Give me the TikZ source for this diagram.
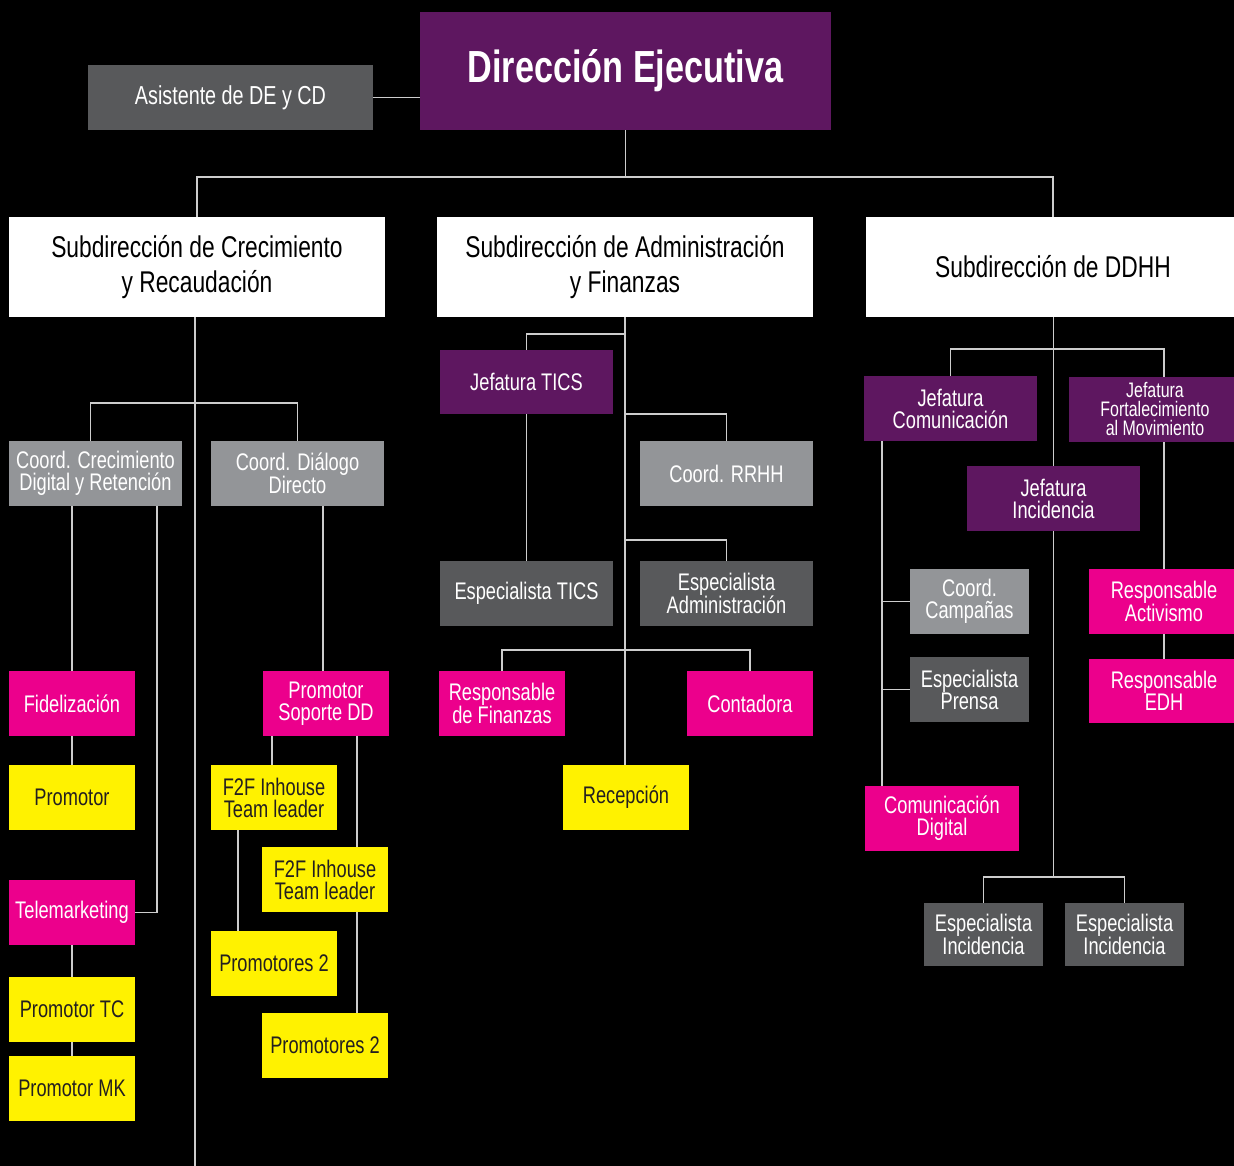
\documentclass[tikz,border=0pt]{standalone}
\usepackage{fontspec}
\setmainfont{Liberation Sans}[FakeStretch=0.76]
\usepackage{tikz}

\definecolor{morado}{RGB}{94,23,96}
\definecolor{fucsia}{RGB}{236,0,140}
\definecolor{amarillo}{RGB}{255,242,0}
\definecolor{grisclaro}{RGB}{147,149,152}
\definecolor{grisoscuro}{RGB}{88,89,91}
\definecolor{lineagris}{RGB}{205,205,205}
\definecolor{tinta}{RGB}{35,31,32}

\tikzset{
  caja/.style={inner sep=0pt, align=center, text=white, font=\fontsize{24}{22}\selectfont},
  jefe/.style={caja, fill=morado},
  coord/.style={caja, fill=grisclaro},
  espec/.style={caja, fill=grisoscuro},
  resp/.style={caja, fill=fucsia},
  prom/.style={caja, fill=amarillo, text=tinta},
  sub/.style={caja, fill=white, text=black, minimum width=376pt, minimum height=100pt,
    font=\fontsize{30}{35}\selectfont},
  chica/.style={minimum width=126pt, minimum height=65pt},
  media/.style={minimum width=173pt, minimum height=65pt},
  corta/.style={minimum width=119pt, minimum height=65pt},
  linea/.style={draw=lineagris, line width=1.6pt}
}

\begin{document}
\begin{tikzpicture}[x=1pt, y=-1pt]

% Background and page size
\fill[black] (0,0) rectangle (1234,1166);
\useasboundingbox (0,0) rectangle (1234,1166);

% Top level
\node[jefe, minimum width=411pt, minimum height=118pt, font=\fontsize{45}{50}\selectfont\bfseries]
  (DE) at (625.5,71) {Dirección Ejecutiva};
\node[espec, minimum width=285pt, minimum height=65pt, font=\fontsize{26}{30}\selectfont]
  (AS) at (230.5,97.5) {Asistente de DE y CD};

% Subdirecciones
\node[sub] (SC) at (197,267) {Subdirección de Crecimiento\\y Recaudación};
\node[sub] (SA) at (625,267) {Subdirección de Administración\\y Finanzas};
\node[sub, minimum width=374pt] (SD) at (1053,267) {Subdirección de DDHH};

% Crecimiento y Recaudacion
\node[coord, media] (CCD) at (95.5,473.5) {Coord. Crecimiento\\Digital y Retención};
\node[coord, media] (CDD) at (297.5,473.5) {Coord. Diálogo\\Directo};
\node[resp, chica] (FI) at (72,703.5) {Fidelización};
\node[prom, chica] (PR) at (72,797.5) {Promotor};
\node[resp, chica] (TM) at (72,912.5) {Telemarketing};
\node[prom, chica] (PTC) at (72,1009.5) {Promotor TC};
\node[prom, chica] (PMK) at (72,1088.5) {Promotor MK};
\node[resp, chica] (PSD) at (326,703.5) {Promotor\\Soporte DD};
\node[prom, chica] (FA) at (274,797.5) {F2F Inhouse\\Team leader};
\node[prom, chica] (FB) at (325,879.5) {F2F Inhouse\\Team leader};
\node[prom, chica] (PA) at (274,963.5) {Promotores 2};
\node[prom, chica] (PB) at (325,1045.5) {Promotores 2};

% Administracion y Finanzas
\node[jefe, media, minimum height=64pt] (JT) at (526.5,382) {Jefatura TICS};
\node[espec, media] (ET) at (526.5,593.5) {Especialista TICS};
\node[coord, media] (RH) at (726.5,473.5) {Coord. RRHH};
\node[espec, media] (EA) at (726.5,593.5) {Especialista\\Administración};
\node[resp, chica] (RF) at (502,703.5) {Responsable\\de Finanzas};
\node[resp, chica] (CO) at (750,703.5) {Contadora};
\node[prom, chica] (RC) at (626,797.5) {Recepción};

% DDHH
\node[jefe, media] (JC) at (950.5,408.5) {Jefatura\\Comunicación};
\node[jefe, media, font=\fontsize{21}{19}\selectfont] (JF) at (1155,409.5)
  {Jefatura\\Fortalecimiento\\al Movimiento};
\node[jefe, media] (JI) at (1053.5,498.5) {Jefatura\\Incidencia};
\node[coord, corta] (CC) at (969.5,601.5) {Coord.\\Campañas};
\node[espec, corta] (EP) at (969.5,689.5) {Especialista\\Prensa};
\node[resp, minimum width=154pt, minimum height=65pt] (CD) at (942,818.5) {Comunicación\\Digital};
\node[resp, minimum width=150pt, minimum height=65pt] (RA) at (1164,601.5) {Responsable\\Activismo};
\node[resp, minimum width=150pt, minimum height=64pt] (ED) at (1164,691) {Responsable\\EDH};
\node[espec, corta, minimum height=63pt] (EI1) at (983.5,934.5) {Especialista\\Incidencia};
\node[espec, corta, minimum height=63pt] (EI2) at (1124.5,934.5) {Especialista\\Incidencia};

% Connectors, top
\draw[linea] (AS.east) -- (DE.west |- AS.east);
\draw[linea] (DE.south) -- (DE.south |- 0,177);
\draw[linea] (SC.north) |- (DE.south |- 0,177) -| (SD.north);

% Connectors, Crecimiento y Recaudacion
\draw[linea] ([xshift=-2pt]SC.south) -- ([xshift=-2pt]SC.south |- 0,1166);
\draw[linea] ([xshift=-5pt]CCD.north) |- ([xshift=-2pt]SC.south |- 0,403) -| (CDD.north);
\draw[linea] (FI.north |- CCD.south) -- (FI.north);
\draw[linea] (TM.east) -| ([xshift=-25pt]CCD.south east);
\draw[linea] (FI.south) -- (PR.north);
\draw[linea] (TM.south) -- (PTC.north);
\draw[linea] (PTC.south) -- (PMK.north);
\draw[linea] ([xshift=-3pt]PSD.north |- CDD.south) -- ([xshift=-3pt]PSD.north);
\draw[linea] ([xshift=-2pt]FA.north |- PSD.south) -- ([xshift=-2pt]FA.north);
\draw[linea] ([xshift=32pt]FB.north |- PSD.south) -- ([xshift=32pt]FB.north);
\draw[linea] ([xshift=27pt]FA.south west) -- ([xshift=27pt]PA.north west);
\draw[linea] ([xshift=32pt]FB.south) -- ([xshift=32pt]PB.north);

% Connectors, Administracion y Finanzas
\draw[linea] (SA.south) -- (RC.north -| SA.south);
\draw[linea] (SA.south |- 0,334) -| (JT.north);
\draw[linea] (JT.south) -- (ET.north);
\draw[linea] (SA.south |- 0,414) -| (RH.north);
\draw[linea] (SA.south |- 0,540) -| (EA.north);
\draw[linea] (RF.north) |- (SA.south |- 0,650) -| (CO.north);

% Connectors, DDHH
\coordinate (cx) at ([xshift=18pt]JC.south west);
\draw[linea] (JI.north |- SD.south) -- (JI.north);
\draw[linea] (JC.north) |- (JI.north |- 0,349) -| (RA.north |- JF.north);
\draw[linea] (cx) -- (cx |- CD.north);
\draw[linea] (CC.west) -- (CC.west -| cx);
\draw[linea] (EP.west) -- (EP.west -| cx);
\draw[linea] (RA.north |- JF.south) -- (RA.north);
\draw[linea] (RA.south) -- (ED.north);
\draw[linea] (JI.south) -- (JI.south |- 0,877);
\draw[linea] (EI1.north) |- (JI.south |- 0,877) -| (EI2.north);

\end{tikzpicture}
\end{document}
